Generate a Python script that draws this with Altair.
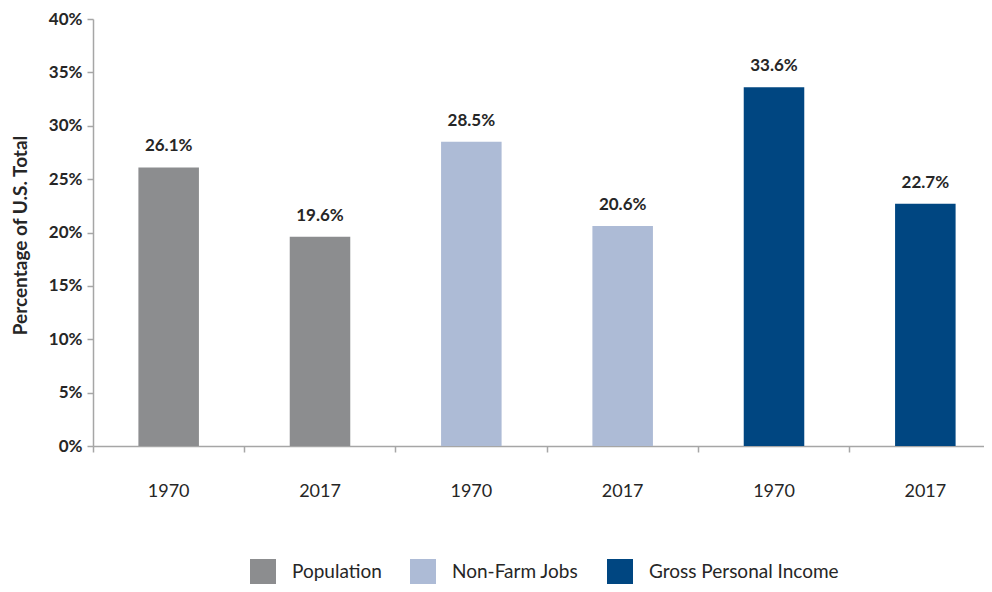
import altair as alt
import pandas as pd

keys = ["Population|1970", "Population|2017", "Non-Farm Jobs|1970", "Non-Farm Jobs|2017",
        "Gross Personal Income|1970", "Gross Personal Income|2017"]
series = ["Population", "Population", "Non-Farm Jobs", "Non-Farm Jobs",
          "Gross Personal Income", "Gross Personal Income"]
values = [0.261, 0.196, 0.285, 0.206, 0.336, 0.227]
series_order = ["Population", "Non-Farm Jobs", "Gross Personal Income"]
colors = ["#8C8D8F", "#ADBBD6", "#004681"]

df = pd.DataFrame({"key": keys, "series": series, "value": values})

FONT = "Lato"
TXT = "#262626"

x = alt.X("key:N", sort=keys, title=None,
          scale=alt.Scale(paddingInner=0, paddingOuter=0),
          axis=alt.Axis(bandPosition=0, labelExpr="split(datum.label, '|')[1]",
                        labelAngle=0, labelFont=FONT, labelFontSize=18, labelColor=TXT,
                        labelPadding=30, tickSize=6, tickColor="#A6A6A6", domainColor="#A6A6A6",
                        domainWidth=1.5, tickWidth=1.5, labelAlign="center", labelBound=False,
                        labelOverlap=False))

bars = alt.Chart(df).mark_bar(width={"band": 0.4}).encode(
    x=x,
    y=alt.Y("value:Q", scale=alt.Scale(domain=[0, 0.40]),
            axis=alt.Axis(values=[0, 0.05, 0.10, 0.15, 0.20, 0.25, 0.30, 0.35, 0.40], format=".0%",
                          grid=False, labelFont=FONT, labelFontSize=17, labelFontWeight="bold",
                          labelColor=TXT, tickSize=6, tickColor="#A6A6A6", domainColor="#A6A6A6",
                          domainWidth=1.5, tickWidth=1.5, labelPadding=5,
                          title="Percentage of U.S. Total", titleFont=FONT, titleFontSize=19,
                          titleFontWeight="bold", titleColor=TXT, titleX=-73, titleY=216,
                          titleAngle=270, titleAlign="center", titleBaseline="middle")),
    color=alt.Color("series:N", sort=series_order,
                    scale=alt.Scale(domain=series_order, range=colors),
                    legend=alt.Legend(title=None, orient="none", legendX=157, legendY=540,
                                      direction="horizontal", symbolType="square", symbolSize=676,
                                      symbolStrokeWidth=0, symbolOpacity=1,
                                      labelFont=FONT, labelFontSize=19, labelColor=TXT,
                                      labelOffset=16, columnPadding=28, labelLimit=400)),
)

labels = alt.Chart(df).mark_text(baseline="bottom", dy=-12, font=FONT, fontSize=17,
                                 fontWeight="bold", color=TXT).encode(
    x=alt.X("key:N", sort=keys),
    y="value:Q",
    text=alt.Text("value:Q", format=".1%"),
)

chart = (bars + labels).properties(
    width=908, height=427,
    autosize=alt.AutoSizeParams(type="none"),
    padding={"left": 85, "top": 11, "right": -17, "bottom": 138},
).configure_view(stroke=None)

chart.save("out.html", embed_options={"renderer": "svg", "actions": False})
